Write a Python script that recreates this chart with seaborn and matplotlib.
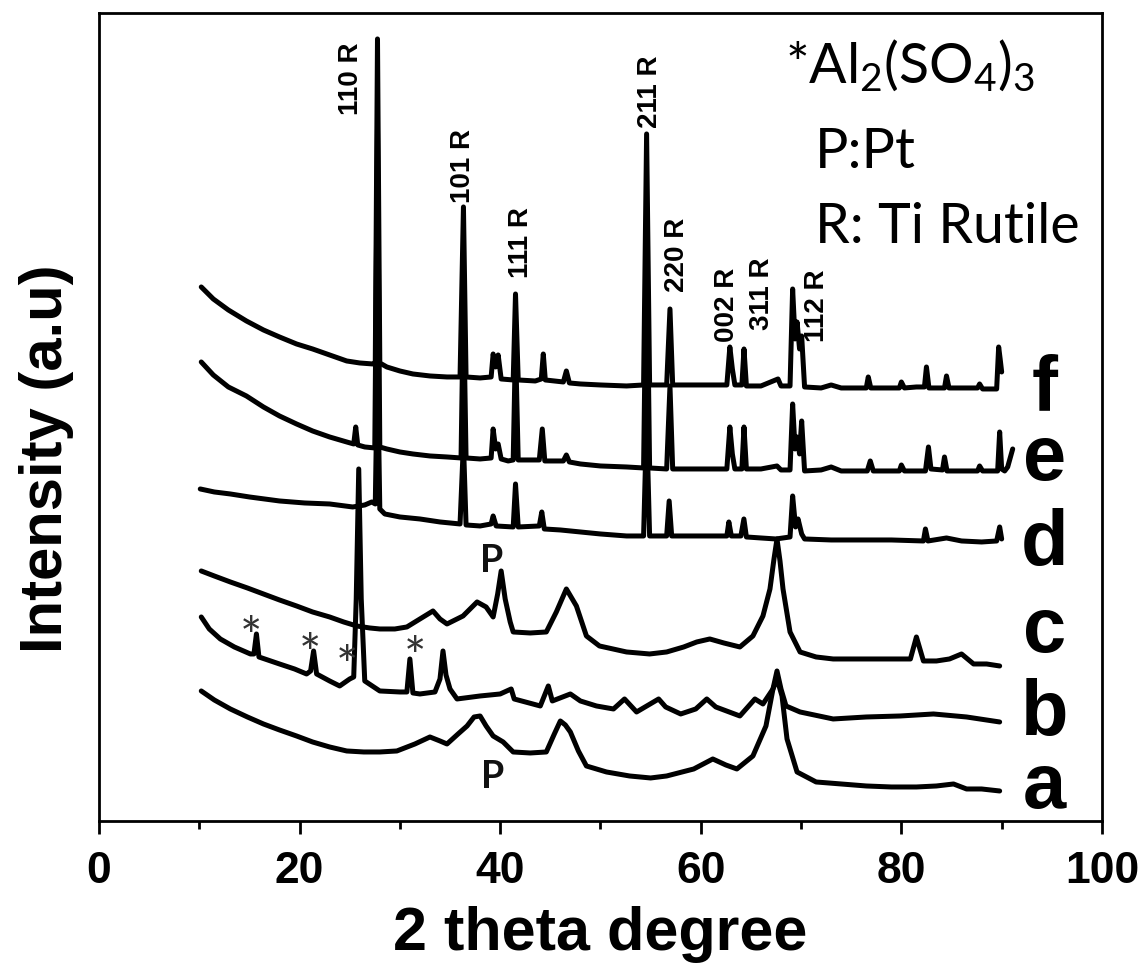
import matplotlib
matplotlib.use("Agg")
import matplotlib.pyplot as plt
import matplotlib.ticker as ticker
import numpy as np
import pandas as pd
import seaborn as sns

# ── XRD traces (2 theta in degrees, intensity in a.u. incl. vertical offset) ──
THETA_A = [10.2, 11.5, 13.1, 14.8, 16.4, 18.0, 19.7, 21.3, 23.0, 24.7, 26.4, 28.0, 29.7, 31.5, 33.0,
           34.0, 34.7, 35.8, 36.7, 37.4, 38.0, 38.6, 39.3, 40.3, 41.3, 43.0, 44.6, 45.4, 46.0, 46.5,
           47.0, 47.8, 48.6, 50.6, 52.9, 55.0, 56.6, 59.3, 61.2, 62.5, 63.6, 65.2, 66.5, 67.2, 67.6,
           68.1, 68.6, 69.6, 71.5, 74.0, 76.5, 79.0, 81.5, 83.5, 85.2, 86.5, 88.0, 89.8]
INT_A = [130, 121, 112, 104, 97, 91, 85, 79, 74, 70, 69, 69, 70, 77, 84,
         80, 77, 87, 95, 104, 105, 95, 85, 79, 69, 68, 69, 87, 100, 96,
         89, 70, 55, 49, 45, 43, 45, 52, 62, 56, 52, 65, 95, 132, 142,
         125, 82, 49, 39, 37, 35, 34, 34, 35, 37, 32, 32, 30]

THETA_B = [10.2, 11.0, 12.1, 13.5, 15.1, 15.45, 15.7, 15.95, 18.0, 19.5, 20.7, 21.1, 21.4, 21.7, 23.0,
           24.0, 25.0, 25.4, 25.65, 25.9, 26.15, 26.5, 28.0, 30.0, 30.7, 31.0, 31.3, 32.0, 33.5, 34.0,
           34.3, 34.6, 35.0, 35.7, 38.0, 40.0, 41.1, 41.4, 44.0, 44.8, 45.2, 47.0, 48.0, 49.6, 51.3,
           52.4, 53.6, 55.8, 56.5, 58.0, 59.5, 60.6, 61.5, 63.9, 65.4, 66.2, 67.2, 67.6, 68.0, 68.5,
           69.9, 73.2, 76.5, 79.9, 83.2, 86.5, 89.8]
INT_B = [204, 192, 182, 174, 167, 167, 187, 164, 157, 152, 147, 150, 170, 147, 140,
         135, 142, 144, 222, 352, 222, 140, 130, 129, 129, 162, 128, 127, 129, 142,
         170, 146, 132, 122, 125, 127, 132, 122, 115, 135, 120, 127, 120, 115, 112,
         122, 109, 122, 114, 107, 112, 122, 114, 105, 122, 117, 132, 150, 132, 115,
         109, 102, 104, 105, 107, 104, 99]

THETA_C = [10.2, 11.5, 13.1, 14.8, 16.4, 18.0, 19.7, 21.3, 23.0, 24.4, 25.7, 27.0, 28.0, 29.5, 30.7,
           32.0, 33.3, 34.0, 34.7, 36.3, 37.7, 38.6, 39.3, 39.75, 40.1, 40.5, 41.0, 41.3, 43.0, 44.6,
           45.6, 46.6, 47.6, 48.6, 49.9, 52.6, 54.9, 56.6, 58.3, 59.6, 60.9, 62.3, 63.9, 65.2, 66.2,
           66.9, 67.3, 67.6, 67.9, 68.2, 68.9, 69.9, 71.5, 73.2, 77.0, 80.9, 81.5, 82.2, 83.5, 84.8,
           86.0, 87.2, 88.5, 89.8]
INT_C = [250, 245, 239, 233, 227, 221, 215, 209, 204, 199, 195, 193, 192, 192, 194,
         202, 210, 202, 197, 205, 219, 214, 204, 227, 250, 222, 199, 189, 188, 189,
         209, 232, 215, 185, 175, 169, 167, 169, 174, 179, 182, 178, 174, 185, 205,
         232, 262, 282, 260, 232, 189, 169, 164, 162, 162, 162, 184, 160, 160, 162,
         167, 157, 157, 155]

THETA_D = [10.1, 11.5, 13.1, 15.0, 18.0, 20.5, 23.0, 25.3, 26.5, 27.2, 27.55, 27.77, 28.0, 28.5, 30.0,
           32.0, 34.0, 36.0, 36.34, 36.6, 38.0, 39.1, 39.3, 39.6, 41.3, 41.53, 41.8, 43.9, 44.15, 44.4,
           46.0, 48.0, 50.0, 52.6, 54.3, 54.6, 54.9, 56.6, 56.85, 57.1, 60.0, 62.6, 62.8, 63.05, 64.0,
           64.3, 64.55, 66.0, 67.5, 68.9, 69.16, 69.45, 69.7, 70.06, 70.35, 73.0, 76.0, 79.0, 82.2, 82.4,
           82.65, 84.5, 86.0, 88.0, 89.5, 89.8, 90.0]
INT_D = [332, 329, 327, 324, 320, 318, 317, 314, 316, 319, 317, 460, 312, 307, 304,
         302, 299, 297, 378, 296, 295, 297, 305, 295, 294, 337, 294, 295, 309, 292,
         291, 289, 287, 285, 285, 401, 285, 285, 320, 285, 285, 285, 299, 285, 285,
         302, 284, 283, 282, 284, 325, 294, 302, 287, 282, 281, 281, 281, 280, 292,
         280, 283, 280, 279, 280, 294, 282]

THETA_E = [10.2, 11.4, 12.9, 14.7, 16.4, 18.0, 19.7, 21.3, 23.0, 24.7, 25.4, 25.6, 25.8, 26.5, 27.5,
           27.77, 28.0, 28.7, 30.0, 31.3, 33.0, 34.7, 36.1, 36.34, 36.6, 38.0, 39.1, 39.3, 39.55, 39.8,
           40.1, 40.8, 41.3, 41.53, 41.8, 43.9, 44.2, 44.45, 46.3, 46.6, 46.9, 48.0, 50.0, 52.6, 54.3,
           54.6, 54.9, 56.6, 56.93, 57.2, 60.0, 62.6, 62.9, 63.15, 63.4, 64.1, 64.31, 64.55, 66.0, 67.6,
           68.0, 68.9, 69.16, 69.4, 69.6, 69.85, 70.06, 70.35, 72.0, 73.0, 74.0, 76.6, 76.9, 77.2, 79.8,
           80.0, 80.3, 82.4, 82.7, 82.95, 84.1, 84.3, 84.55, 87.6, 87.8, 88.1, 89.6, 89.8, 90.0, 90.3,
           90.6, 91.1]
INT_E = [459, 446, 434, 425, 414, 405, 397, 390, 384, 379, 377, 394, 376, 374, 373,
         692, 374, 372, 369, 367, 365, 364, 363, 522, 363, 362, 363, 392, 372, 377,
         362, 360, 361, 477, 361, 361, 392, 360, 360, 366, 359, 357, 355, 354, 353,
         592, 353, 352, 435, 352, 352, 352, 394, 367, 352, 352, 394, 352, 352, 355,
         351, 351, 417, 372, 384, 367, 400, 350, 351, 354, 350, 350, 360, 350, 350,
         356, 350, 350, 374, 352, 351, 364, 350, 350, 355, 350, 350, 389, 352, 350,
         354, 372]

THETA_F = [10.2, 11.4, 12.9, 14.7, 16.4, 18.0, 19.7, 21.3, 23.0, 24.7, 26.0, 27.3, 27.55, 27.77, 28.0,
           28.7, 30.0, 31.3, 33.0, 34.7, 36.0, 36.34, 36.6, 38.0, 39.1, 39.3, 39.55, 39.8, 40.1, 41.3,
           41.53, 41.8, 43.5, 44.1, 44.3, 44.5, 46.3, 46.6, 46.9, 48.0, 50.0, 52.6, 54.3, 54.6, 54.9,
           56.6, 56.93, 57.2, 60.0, 62.6, 62.9, 63.15, 63.4, 64.1, 64.31, 64.55, 66.0, 67.7, 68.0, 68.9,
           69.16, 69.4, 69.6, 69.85, 70.06, 70.35, 72.0, 73.0, 74.0, 76.5, 76.7, 76.95, 79.8, 80.0, 80.3,
           81.5, 82.3, 82.5, 82.75, 84.3, 84.5, 84.75, 87.6, 87.8, 88.1, 89.5, 89.7, 89.85, 90.0]
INT_F = [534, 522, 511, 500, 491, 484, 477, 472, 466, 460, 458, 457, 459, 782, 458,
         454, 450, 447, 445, 444, 444, 614, 444, 443, 444, 467, 454, 466, 442, 441,
         527, 441, 440, 442, 467, 441, 439, 450, 438, 437, 436, 435, 436, 687, 436,
         436, 512, 436, 436, 436, 474, 452, 436, 436, 472, 435, 435, 442, 435, 435,
         532, 482, 499, 472, 485, 434, 433, 436, 433, 433, 444, 433, 433, 439, 433,
         434, 434, 454, 433, 433, 445, 433, 433, 437, 432, 432, 474, 462, 449]

SAMPLES = ["a", "b", "c", "d", "e", "f"]
SAMPLE_LABEL_X = 94.3
SAMPLE_LABEL_Y = [14, 87, 170, 257, 342, 412]

PEAK_NAMES = ["110 R", "101 R", "111 R", "211 R", "220 R", "002 R", "311 R", "112 R"]
PEAK_LABEL_X = [25.17, 36.34, 42.07, 54.94, 57.68, 62.65, 66.15, 71.55]
PEAK_LABEL_Y = [707, 619, 544, 694, 530, 480, 492, 480]

STAR_X = [15.15, 21.04, 24.73, 31.5]
STAR_Y = [167, 150, 138, 147]
PT_X = [39.18, 39.28]
PT_Y = [250, 34]

LEGEND_LINES = [r"*Al$_2$(SO$_4$)$_3$", "P:Pt", "R: Ti Rutile"]
LEGEND_X = [0.684, 0.714, 0.714]
LEGEND_Y = [0.9146, 0.809, 0.7166]

traces = {"a": (THETA_A, INT_A), "b": (THETA_B, INT_B), "c": (THETA_C, INT_C),
          "d": (THETA_D, INT_D), "e": (THETA_E, INT_E), "f": (THETA_F, INT_F)}
df = pd.concat([pd.DataFrame({"theta": t, "intensity": i, "sample": s})
                for s, (t, i) in traces.items()], ignore_index=True)

sns.set_style("ticks")
plt.rcParams["font.family"] = ["Liberation Sans", "DejaVu Sans"]
plt.rcParams["mathtext.default"] = "regular"
plt.rcParams["text.color"] = "black"
plt.rcParams["axes.labelcolor"] = "black"
plt.rcParams["xtick.color"] = "black"
plt.rcParams["xtick.labelcolor"] = "black"

fig = plt.figure(figsize=(11.48, 9.70), dpi=100)
ax = fig.add_axes([0.0862, 0.1526, 0.9599 - 0.0862, 0.9856 - 0.1526])

sns.lineplot(data=df, x="theta", y="intensity", hue="sample",
             palette={s: "black" for s in SAMPLES}, estimator=None, sort=False,
             legend=False, linewidth=3.6, ax=ax)

ax.set_xlim(0, 100)
ax.set_ylim(0, 808)
ax.set_yticks([])
ax.xaxis.set_major_locator(ticker.MultipleLocator(20))
ax.xaxis.set_minor_locator(ticker.MultipleLocator(10))
ax.tick_params(axis="x", which="major", direction="out", length=9, width=2,
               labelsize=32, pad=12, colors="black")
ax.tick_params(axis="x", which="minor", direction="out", length=6, width=2, colors="black")
for lab in ax.get_xticklabels():
    lab.set_fontweight("bold")
for sp in ax.spines.values():
    sp.set_visible(True)
    sp.set_linewidth(2)
    sp.set_color("black")

ax.set_xlabel("2 theta degree", fontsize=44, fontweight="bold", color="black")
ax.xaxis.label.set_va("baseline")
ax.xaxis.set_label_coords(0.5, -0.1584)
ax.set_ylabel("Intensity (a.u)", fontsize=43, fontweight="bold", color="black")
ax.yaxis.label.set_va("baseline")
ax.yaxis.set_label_coords(-0.037, 0.45)

for s, yv in zip(SAMPLES, SAMPLE_LABEL_Y):
    ax.text(SAMPLE_LABEL_X, yv, s, fontsize=56, fontweight="bold", color="black",
            ha="center", va="baseline")

for name, px, py in zip(PEAK_NAMES, PEAK_LABEL_X, PEAK_LABEL_Y):
    ax.text(px, py, name, rotation=90, fontsize=20, fontweight="bold", color="black",
            ha="center", va="bottom")

for sx, sy in zip(STAR_X, STAR_Y):
    ax.text(sx, sy, "*", fontsize=38, color="#333333", family=["Lato", "DejaVu Sans"],
            ha="center", va="baseline")

for px, py in zip(PT_X, PT_Y):
    ax.text(px, py, "P", fontsize=27, fontweight="bold", color="#111111",
            family=["Lato", "DejaVu Sans"], ha="center", va="baseline")

for txt, lx, ly in zip(LEGEND_LINES, LEGEND_X, LEGEND_Y):
    ax.text(lx, ly, txt, transform=ax.transAxes, fontsize=40, color="black",
            family=["Lato", "DejaVu Sans"], ha="left", va="baseline")

fig.savefig("out.png", dpi=100)
plt.close(fig)
